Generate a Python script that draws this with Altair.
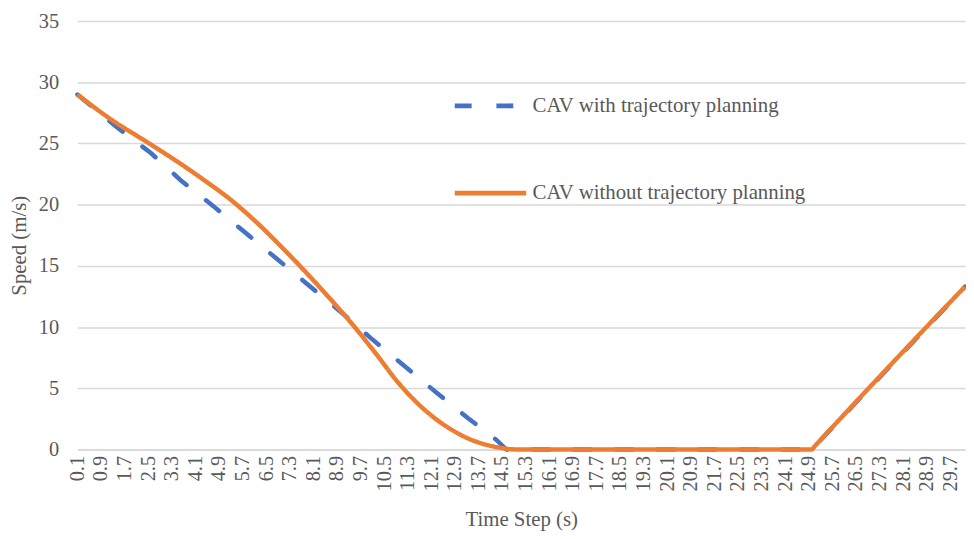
import altair as alt
import pandas as pd

# ---- data ----
x_ticks = [0.1, 0.9, 1.7, 2.5, 3.3, 4.1, 4.9, 5.7, 6.5, 7.3, 8.1, 8.9, 9.7, 10.5,
           11.3, 12.1, 12.9, 13.7, 14.5, 15.3, 16.1, 16.9, 17.7, 18.5, 19.3, 20.1,
           20.9, 21.7, 22.5, 23.3, 24.1, 24.9, 25.7, 26.5, 27.3, 28.1, 28.9, 29.7]
y_ticks = [0, 5, 10, 15, 20, 25, 30, 35]

series_names = ["CAV with trajectory planning", "CAV without trajectory planning"]
series_colors = ["#4472C4", "#ED7D31"]

t_with = [0.1, 1.4, 2.6, 3.6, 4.7, 5.8, 6.85, 7.9, 9.0, 10.05, 11.15, 12.25, 13.35,
          14.3, 14.65, 25.0, 30.2]
v_with = [29.0, 26.4, 24.2, 22.0, 19.9, 17.7, 15.6, 13.5, 11.3, 9.1, 6.9, 4.7, 2.55,
          0.8, 0.0, 0.0, 13.3]

t_without = [0.1, 1.1, 2.6, 3.5, 4.4, 5.3, 6.2, 7.0, 7.8, 8.6, 9.4, 10.2, 11.0, 11.8,
             12.6, 13.4, 14.2, 15.05, 25.0, 25.1, 30.1, 30.2]
v_without = [29.0, 27.2, 24.9, 23.5, 22.0, 20.4, 18.5, 16.6, 14.6, 12.5, 10.3, 7.9, 5.4,
             3.4, 1.9, 0.85, 0.25, 0.0, 0.0, 0.26, 13.05, 13.3]

df_with = pd.DataFrame({"t": t_with, "v": v_with, "series": series_names[0]})
df_without = pd.DataFrame({"t": t_without, "v": v_without, "series": series_names[1]})

TEXT = "#595959"
GRID = "#d9d9d9"
FONT = "Liberation Serif"

x_enc = alt.X(
    "t:Q",
    scale=alt.Scale(domain=[0.1, 30.2], nice=False, zero=False),
    axis=alt.Axis(
        values=x_ticks, format=".1f", labelAngle=270, grid=False, ticks=False,
        labelPadding=6, labelFlush=False, labelOverlap=False,
        title="Time Step (s)", titleY=71, titleBaseline="middle",
        domainColor=GRID, domainWidth=1.5,
    ),
)
y_enc = alt.Y(
    "v:Q",
    scale=alt.Scale(domain=[0, 35], nice=False),
    axis=alt.Axis(
        values=y_ticks, grid=True, gridColor=GRID, gridWidth=1.5, domain=False,
        ticks=False, labelPadding=19, title="Speed (m/s)", titleX=-58, titleY=226,
        titleBaseline="middle", titleAngle=270,
    ),
)

legend = alt.Legend(
    title=None, orient="none", legendX=378, legendY=47, symbolType="stroke",
    symbolSize=5184, symbolStrokeWidth=5, labelFontSize=21, labelColor=TEXT,
    labelFont=FONT, rowPadding=39, labelOffset=4, padding=0,
    labelLimit=0,
)
color_enc = alt.Color("series:N", scale=alt.Scale(domain=series_names, range=series_colors),
                      legend=legend)
dash_enc = alt.StrokeDash("series:N",
                          scale=alt.Scale(domain=series_names, range=[[17, 25], [1, 0]]),
                          legend=legend)

blue = alt.Chart(df_with).mark_line(strokeWidth=4.5, strokeCap="round").encode(
    x=x_enc, y=y_enc, color=color_enc, strokeDash=dash_enc)
orange = alt.Chart(df_without).mark_line(strokeWidth=4.5, interpolate="monotone").encode(
    x=x_enc, y=y_enc, color=color_enc, strokeDash=dash_enc)

chart = alt.layer(blue, orange).properties(
    width=895, height=432,
    autosize=alt.AutoSizeParams(type="none"),
    padding={"left": 70, "top": 11, "right": 1, "bottom": 80},
).configure(
    font=FONT, background="white"
).configure_view(
    stroke=None
).configure_axis(
    labelFont=FONT, labelFontSize=20.5, labelColor=TEXT,
    titleFont=FONT, titleFontSize=21, titleColor=TEXT,
    titleFontWeight="normal",
).configure_legend(
    labelFont=FONT, labelFontSize=21, labelColor=TEXT,
)

chart.save("out.html", embed_options={"renderer": "svg", "actions": False})
